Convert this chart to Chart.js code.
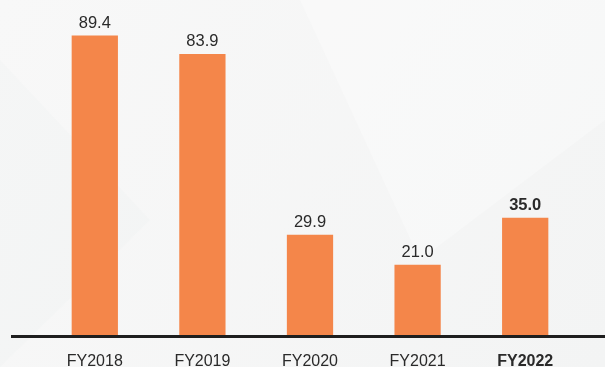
<!DOCTYPE html>
<html>
<head>
<meta charset="utf-8">
<script src="https://cdn.jsdelivr.net/npm/chart.js@4.4.1/dist/chart.umd.min.js"></script>
<style>
    html, body { margin: 0; padding: 0; background: #f6f7f7; }
    #wrap { width: 605px; height: 367px; position: relative; }
</style>
</head>
<body>
<div id="wrap"><canvas id="fy-chart"></canvas></div>
<script>
const years = ['FY2018', 'FY2019', 'FY2020', 'FY2021', 'FY2022'];
const values = [89.4, 83.9, 29.9, 21.0, 35.0];
const highlightIndex = 4;

const barColor = '#f4864a';
const textColor = '#2a2a2a';

// pale grey backdrop with faint panels
const backdrop = {
    id: 'backdrop',
    beforeDraw(chart) {
        const { ctx, width, height } = chart;
        ctx.save();
        const grad = ctx.createLinearGradient(0, 0, width, height);
        grad.addColorStop(0, '#f8f8f8');
        grad.addColorStop(1, '#f3f4f4');
        ctx.fillStyle = grad;
        ctx.fillRect(0, 0, width, height);
        ctx.fillStyle = 'rgba(255,255,255,0.3)';
        ctx.beginPath();
        ctx.moveTo(300, 0);
        ctx.lineTo(605, 0);
        ctx.lineTo(605, 120);
        ctx.lineTo(420, 260);
        ctx.closePath();
        ctx.fill();
        ctx.fillStyle = 'rgba(236,238,238,0.25)';
        ctx.beginPath();
        ctx.moveTo(0, 60);
        ctx.lineTo(150, 220);
        ctx.lineTo(0, 367);
        ctx.closePath();
        ctx.fill();
        ctx.restore();
    }
};

// heavy base rule running to the right edge
const baseRule = {
    id: 'baseRule',
    afterDatasetsDraw(chart) {
        const { ctx, width } = chart;
        const y = chart.scales.y.getPixelForValue(0);
        ctx.save();
        ctx.strokeStyle = '#1e1e1e';
        ctx.lineWidth = 3;
        ctx.beginPath();
        ctx.moveTo(11, y + 1.5);
        ctx.lineTo(width, y + 1.5);
        ctx.stroke();
        ctx.restore();
    }
};

// value labels above each bar
const valueLabels = {
    id: 'valueLabels',
    afterDatasetsDraw(chart) {
        const { ctx } = chart;
        const meta = chart.getDatasetMeta(0);
        ctx.save();
        ctx.fillStyle = textColor;
        ctx.textAlign = 'center';
        ctx.textBaseline = 'bottom';
        meta.data.forEach((bar, i) => {
            const bold = i === highlightIndex;
            ctx.font = (bold ? 'bold ' : '') + '16.5px "Liberation Sans", Arial, sans-serif';
            ctx.fillText(values[i].toFixed(1), bar.x, bar.y - 4);
        });
        ctx.restore();
    }
};

const ctx = document.getElementById('fy-chart').getContext('2d');

new Chart(ctx, {
    type: 'bar',
    data: {
        labels: years,
        datasets: [{
            data: values,
            backgroundColor: barColor,
            borderWidth: 0,
            barPercentage: 0.43,
            categoryPercentage: 1
        }]
    },
    options: {
        responsive: true,
        maintainAspectRatio: false,
        animation: false,
        layout: {
            padding: { left: 41, right: 26, top: 0, bottom: 0 }
        },
        scales: {
            x: {
                grid: { display: false, drawTicks: false },
                border: { display: false },
                afterFit(scale) {
                    scale.height = 32;
                },
                ticks: {
                    padding: 17,
                    color: textColor,
                    font: (c) => ({
                        family: '"Liberation Sans", Arial, sans-serif',
                        size: 16,
                        weight: c.index === highlightIndex ? 'bold' : 'normal'
                    })
                }
            },
            y: {
                display: false,
                min: 0,
                max: 100
            }
        },
        plugins: {
            legend: { display: false },
            tooltip: { enabled: false }
        }
    },
    plugins: [backdrop, baseRule, valueLabels]
});
</script>
</body>
</html>
